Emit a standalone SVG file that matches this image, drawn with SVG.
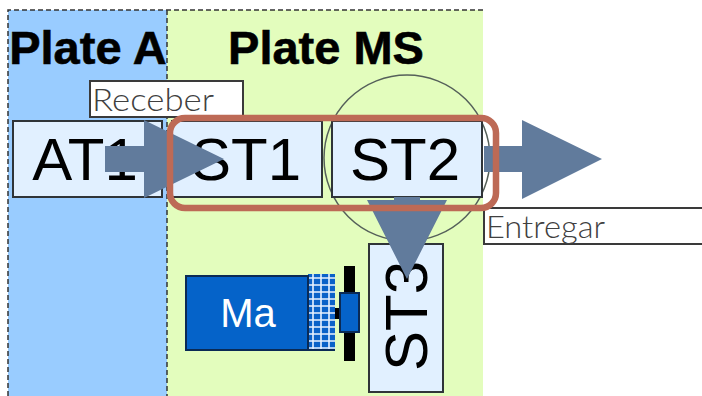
<svg xmlns="http://www.w3.org/2000/svg" width="702" height="396" viewBox="0 0 702 396">
<style>
.st{fill:#e1f0ff;stroke:#2f3438;stroke-width:2}
.big{font-family:"Liberation Sans",Arial,sans-serif;font-size:60px;fill:#000;text-anchor:middle}
.head{font-family:"Liberation Sans",Arial,sans-serif;font-size:47px;font-weight:bold;fill:#000;stroke:#000;stroke-width:.6;text-anchor:middle}
.lab{font-family:"Lato","Liberation Sans",sans-serif;font-size:31px;font-weight:300;fill:#404040}
.tag{fill:#fff;stroke:#3a3a3a;stroke-width:2}
.arrow{fill:#617b9c}
.dash{fill:none;stroke:#333;stroke-width:1.5;stroke-dasharray:5 3}
</style>
<defs>
<pattern id="mesh" width="8" height="7" patternUnits="userSpaceOnUse" x="308" y="274">
<rect width="8" height="7" fill="#0a62c8"/>
<path d="M5 0V7M0 4H8" stroke="#e8f2ff" stroke-width="1.6"/>
</pattern>
</defs>
<rect width="702" height="396" fill="#fff"/>
<g id="plate-a">
<rect x="8" y="10" width="159" height="386" fill="#99ccff"/>
<text class="head" x="88" y="64">Plate A</text>
</g>
<g id="plate-ms">
<rect x="167" y="10" width="316" height="386" fill="#e3fdbd"/>
<text class="head" x="326" y="64" style="font-size:47px">Plate MS</text>
</g>
<path class="dash" d="M8 396V10H483M167 10V396"/>
<g id="circle"><circle cx="407" cy="158" r="83" fill="none" stroke="#55605a" stroke-width="1.5"/></g>
<g id="receber"><rect class="tag" x="90" y="81" width="153" height="36"/><text class="lab" x="92" y="111" textLength="122" lengthAdjust="spacingAndGlyphs">Receber</text></g>
<g id="at1"><rect class="st" x="13" y="121" width="149" height="76"/><text class="big" x="85" y="180">AT1</text></g>
<g id="st1"><rect class="st" x="172" y="121" width="150" height="76"/><text class="big" x="246" y="180">ST1</text></g>
<g id="st2"><rect class="st" x="332" y="121" width="150" height="76"/><text class="big" x="405" y="180">ST2</text></g>
<g id="entregar"><path class="tag" d="M702 208H484V244H702"/><text class="lab" x="486" y="238" textLength="119" lengthAdjust="spacingAndGlyphs">Entregar</text></g>
<g id="st3"><rect class="st" x="369" y="244" width="74" height="148"/><text class="big" transform="translate(427 316) rotate(-90)">ST3</text></g>
<g id="ma">
<rect x="308" y="274" width="27" height="76" fill="url(#mesh)"/>
<path d="M308 276H186V350H335M308 276V350" fill="none" stroke="#0a2a55" stroke-width="2"/>
<rect x="186" y="276" width="122" height="74" fill="#0563c9" stroke="#0a2a55" stroke-width="2"/>
<rect x="335" y="308" width="6" height="11" fill="#000"/>
<rect x="344" y="266" width="11" height="95" fill="#000"/>
<rect x="340" y="293" width="19" height="39" fill="#0563c9" stroke="#0a2a55" stroke-width="2"/>
<text x="248" y="327" font-family="'Liberation Sans',Arial,sans-serif" font-size="40" fill="#fff" text-anchor="middle">Ma</text>
</g>
<g id="connectors">
<path class="arrow" d="M105 146H144V120L224 159L144 198V172H105Z"/>
<path class="arrow" d="M484 146H522V120L602 159L522 199V172H484Z"/>
<path class="arrow" d="M394 197H420V200H447L407 279L367 200H394Z"/>
</g>
<g id="highlight"><rect x="170" y="118" width="326" height="90" rx="15" fill="none" stroke="#bd6a56" stroke-width="6.5"/></g>
</svg>
